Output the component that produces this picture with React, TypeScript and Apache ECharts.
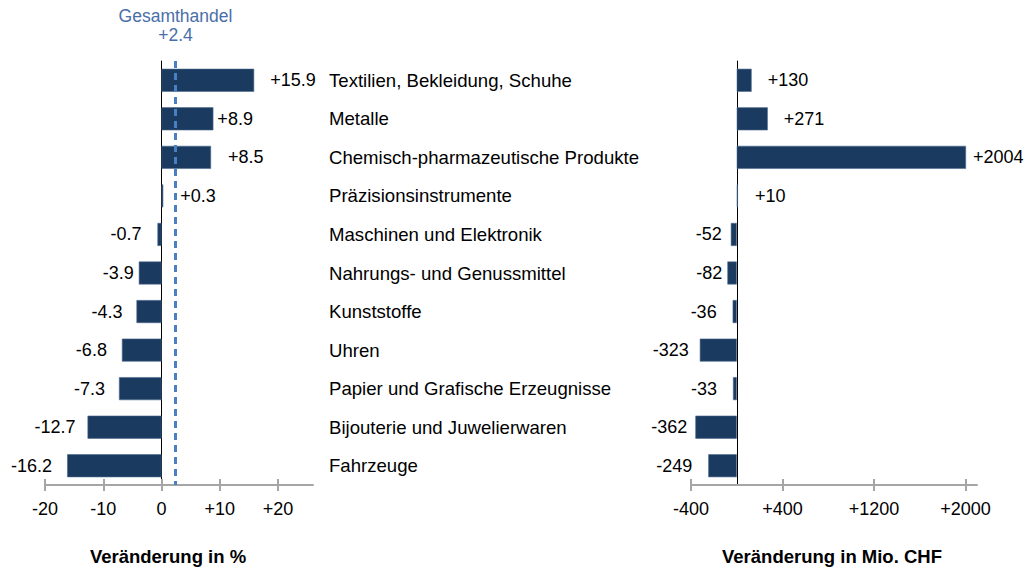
import React, { useEffect, useRef } from "react";
import * as echarts from "echarts";

const categories = [
  "Textilien, Bekleidung, Schuhe",
  "Metalle",
  "Chemisch-pharmazeutische Produkte",
  "Präzisionsinstrumente",
  "Maschinen und Elektronik",
  "Nahrungs- und Genussmittel",
  "Kunststoffe",
  "Uhren",
  "Papier und Grafische Erzeugnisse",
  "Bijouterie und Juwelierwaren",
  "Fahrzeuge",
];
const pctChange = [15.9, 8.9, 8.5, 0.3, -0.7, -3.9, -4.3, -6.8, -7.3, -12.7, -16.2];
const chfChange = [130, 271, 2004, 10, -52, -82, -36, -323, -33, -362, -249];
const totalTradeLabel = "Gesamthandel";
const totalTradePct = 2.4;
const pctTicks = [-20, -10, 0, 10, 20];
const chfTicks = [-400, 400, 1200, 2000];
const pctAxisTitle = "Veränderung in %";
const chfAxisTitle = "Veränderung in Mio. CHF";

// label gaps (style only)
const pctLabelGap = [16, 4, 17, 17, 16, 5, 14, 15, 14, 12, 15];
const chfLabelGap = [16, 16, 7, 17, 9, 5, 16, 11, 16, 8, 16];

const FONT = "'Liberation Sans', Arial, sans-serif";
const BAR = "#1b3a5f";
const FS = 18;
const signed = (v: number, d = 0) => (v > 0 ? "+" + v.toFixed(d) : v.toFixed(d));

export default function App() {
  const ref = useRef<HTMLDivElement>(null);
  useEffect(() => {
    if (!ref.current) return;
    const chart = echarts.init(ref.current, undefined, { renderer: "svg" });
    const top = 61;
    const height = 424;
    const tickAxis = (gridIndex: number, min: number, max: number, ticks: number[], inside: boolean, showLabel: boolean, digits: number) => ({
      type: "value",
      gridIndex,
      min,
      max,
      position: "bottom",
      splitLine: { show: false },
      axisLine: { show: !inside, onZero: false, lineStyle: { color: "#a6a6a6", width: 2 } },
      axisTick: { show: true, inside, length: 6, customValues: ticks, lineStyle: { color: "#a6a6a6", width: 2 } },
      axisLabel: {
        show: showLabel,
        customValues: ticks,
        margin: 15,
        color: "#000",
        fontSize: FS,
        fontFamily: FONT,
        formatter: (v: number) => signed(v, digits),
      },
    });
    chart.setOption({
      animation: false,
      textStyle: { fontFamily: FONT },
      title: [
        { text: pctAxisTitle, left: 163, top: 542, textAlign: "center", textStyle: { fontSize: 18.5, fontWeight: "bold", color: "#000", fontFamily: FONT } },
        { text: chfAxisTitle, left: 827, top: 542, textAlign: "center", textStyle: { fontSize: 18.5, fontWeight: "bold", color: "#000", fontFamily: FONT } },
      ],
      grid: [
        { left: 45, width: 268, top, height },
        { left: 691, width: 286, top, height },
      ],
      xAxis: [
        tickAxis(0, -20, 26, pctTicks, false, true, 0),
        tickAxis(0, -20, 26, pctTicks, true, false, 0),
        tickAxis(1, -400, 2100, chfTicks, false, true, 0),
        tickAxis(1, -400, 2100, chfTicks, true, false, 0),
      ],
      yAxis: [
        {
          type: "category",
          gridIndex: 0,
          data: categories,
          inverse: true,
          axisLine: { onZero: true, lineStyle: { color: "#000", width: 1 } },
          axisTick: { show: false },
          axisLabel: { align: "left", margin: -284, color: "#000", fontSize: 18.6, fontFamily: FONT },
        },
        {
          type: "category",
          gridIndex: 1,
          data: categories,
          inverse: true,
          axisLine: { onZero: true, lineStyle: { color: "#000", width: 1 } },
          axisTick: { show: false },
          axisLabel: { show: false },
        },
      ],
      series: [
        {
          type: "bar",
          xAxisIndex: 0,
          yAxisIndex: 0,
          barWidth: 23,
          itemStyle: { color: BAR, borderColor: "#4c6a90", borderWidth: 0.6 },
          data: pctChange.map((v, i) => ({
            value: v,
            label: { position: v >= 0 ? "right" : "left", distance: pctLabelGap[i] },
          })),
          label: { show: true, color: "#000", fontSize: FS, fontFamily: FONT, formatter: (p: any) => signed(p.value, 1) },
          markLine: {
            silent: true,
            symbol: "none",
            lineStyle: { type: [7, 5], color: "#4a7fc1", width: 3 },
            label: {
              show: true,
              position: "start",
              distance: 17,
              color: "#4a6ea8",
              fontSize: 17.5,
              lineHeight: 19,
              fontFamily: FONT,
              formatter: () => totalTradeLabel + "\n" + signed(totalTradePct, 1),
            },
            data: [{ xAxis: totalTradePct }],
          },
        },
        {
          type: "bar",
          xAxisIndex: 2,
          yAxisIndex: 1,
          barWidth: 23,
          itemStyle: { color: BAR, borderColor: "#4c6a90", borderWidth: 0.6 },
          data: chfChange.map((v, i) => ({
            value: v,
            label: { position: v >= 0 ? "right" : "left", distance: chfLabelGap[i] },
          })),
          label: { show: true, color: "#000", fontSize: FS, fontFamily: FONT, formatter: (p: any) => signed(p.value, 0) },
        },
      ],
    });
    return () => chart.dispose();
  }, []);
  return <div ref={ref} style={{ position: "fixed", left: 0, top: 0, width: 1025, height: 569, background: "#fff" }} />;
}
